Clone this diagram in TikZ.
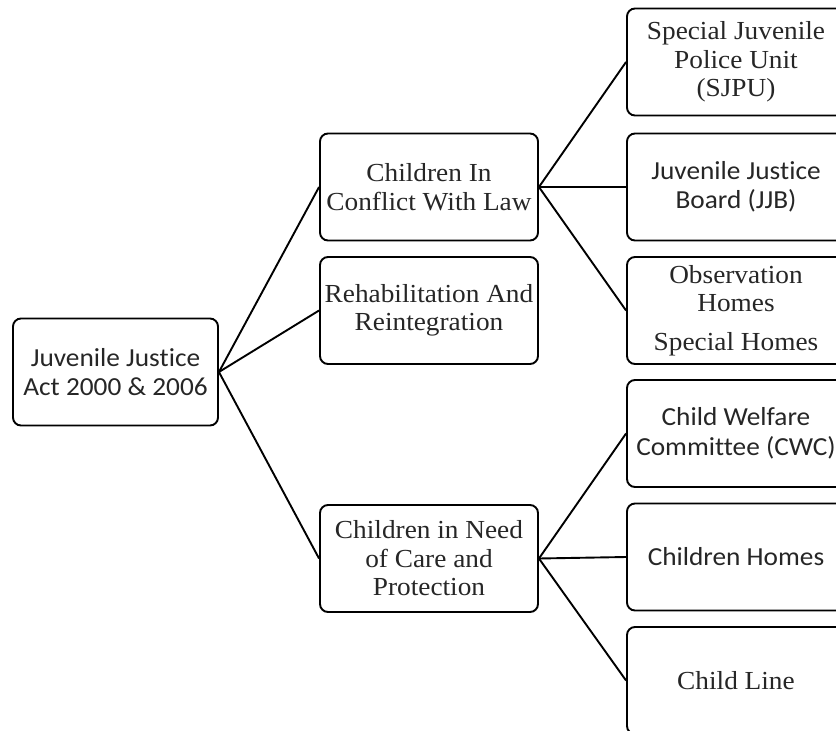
\documentclass[tikz,border=0pt]{standalone}
\usepackage{fontspec}
\setmainfont{Liberation Serif}[FakeStretch=1.05]
\newfontfamily\calibri{Carlito}[FakeStretch=1.05,Ligatures=NoCommon]

\begin{document}
\begin{tikzpicture}[x=1pt,y=1pt,line width=1.9pt]
      \tikzstyle{box} = [draw,rounded corners=8pt,minimum height=107pt,minimum width=218pt,
        align=center,text=black!85,font=\fontsize{26}{28.5}\selectfont]
      \tikzstyle{sans} = [font=\calibri\fontsize{26}{29.5}\selectfont]
      \clip (0,0) rectangle (836,-731);
      \node (root) [box,sans,minimum width=205pt] at (115.5,-372) {Juvenile Justice\\Act 2000 \& 2006};
      % middle column
      \node (cicl) [box] at (429,-187) {Children In\\Conflict With Law};
      \node (rehab) [box] at (429,-310.5) {Rehabilitation And\\Reintegration};
      \node (cncp) [box] at (429,-558.5) {Children in Need\\of Care and\\Protection};
      % right column
      \node (sjpu) [box] at (736,-62) {Special Juvenile\\Police Unit\\(SJPU)};
      \node (jjb) [box,sans] at (736,-187) {Juvenile Justice\\Board (JJB)};
      \node (obs) [box] at (736,-310.5) {Observation\\Homes\\[10pt]Special Homes};
      \node (cwc) [box,sans] at (736,-433.5) {Child Welfare\\Committee (CWC)};
      \node (homes) [box,sans] at (736,-557) {Children Homes};
      \node (line) [box] at (736,-680.5) {Child Line};
      \foreach \n in {cicl,rehab,cncp}
        \draw (root.east) -- (\n.west);
      \foreach \n in {sjpu,jjb,obs}
        \draw (cicl.east) -- (\n.west);
      \foreach \n in {cwc,homes,line}
        \draw (cncp.east) -- (\n.west);
\end{tikzpicture}
\end{document}
